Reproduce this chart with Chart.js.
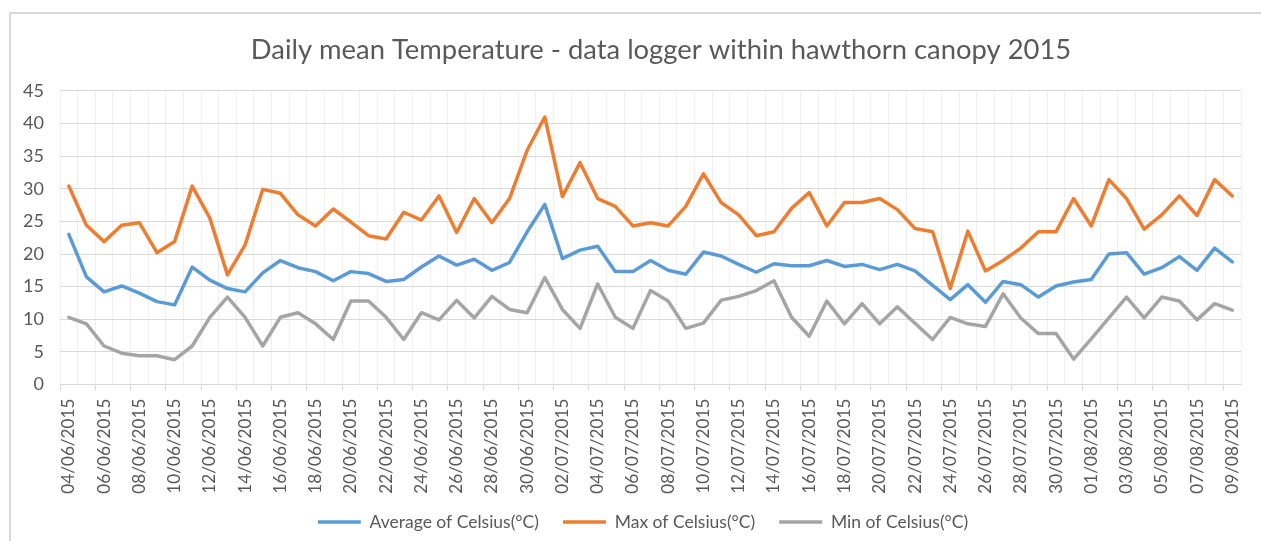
<!DOCTYPE html>
<html>
<head>
<meta charset="utf-8">
<title>Daily mean Temperature</title>
<script src="https://cdn.jsdelivr.net/npm/chart.js@4.4.0/dist/chart.umd.min.js"></script>
<style>
  html, body { margin: 0; padding: 0; background: #fff; overflow: hidden; }
  #frame { position: absolute; left: 9px; top: 12px; width: 1400px; height: 700px; border: 2px solid #d9d9d9; }
  #myChart { position: absolute; left: 0; top: 0; }
</style>
</head>
<body>
<div id="frame"></div>
<canvas id="myChart" width="1261" height="541"></canvas>
<script>
const dates = [
  "04/06/2015", "05/06/2015", "06/06/2015", "07/06/2015", "08/06/2015", "09/06/2015", "10/06/2015",
  "11/06/2015", "12/06/2015", "13/06/2015", "14/06/2015", "15/06/2015", "16/06/2015", "17/06/2015",
  "18/06/2015", "19/06/2015", "20/06/2015", "21/06/2015", "22/06/2015", "23/06/2015", "24/06/2015",
  "25/06/2015", "26/06/2015", "27/06/2015", "28/06/2015", "29/06/2015", "30/06/2015", "01/07/2015",
  "02/07/2015", "03/07/2015", "04/07/2015", "05/07/2015", "06/07/2015", "07/07/2015", "08/07/2015",
  "09/07/2015", "10/07/2015", "11/07/2015", "12/07/2015", "13/07/2015", "14/07/2015", "15/07/2015",
  "16/07/2015", "17/07/2015", "18/07/2015", "19/07/2015", "20/07/2015", "21/07/2015", "22/07/2015",
  "23/07/2015", "24/07/2015", "25/07/2015", "26/07/2015", "27/07/2015", "28/07/2015", "29/07/2015",
  "30/07/2015", "31/07/2015", "01/08/2015", "02/08/2015", "03/08/2015", "04/08/2015", "05/08/2015",
  "06/08/2015", "07/08/2015", "08/08/2015", "09/08/2015"
];

const avgCelsius = [
  23.0, 16.5, 14.2, 15.1, 14.0, 12.7, 12.2, 18.0, 16.0, 14.7, 14.2, 17.1, 19.0, 17.9,
  17.3, 15.9, 17.3, 17.0, 15.8, 16.1, 18.0, 19.7, 18.3, 19.2, 17.5, 18.7, 23.4, 27.6,
  19.3, 20.6, 21.2, 17.3, 17.3, 19.0, 17.5, 16.9, 20.3, 19.7, 18.4, 17.2, 18.5, 18.2,
  18.2, 19.0, 18.1, 18.4, 17.6, 18.4, 17.4, 15.2, 13.0, 15.3, 12.6, 15.8, 15.3, 13.4,
  15.1, 15.7, 16.1, 20.0, 20.2, 16.9, 17.9, 19.6, 17.5, 20.9, 18.8
];

const maxCelsius = [
  30.4, 24.4, 21.9, 24.4, 24.8, 20.2, 21.9, 30.4, 25.5, 16.8, 21.4, 29.9, 29.3, 26.0,
  24.3, 26.9, 24.9, 22.8, 22.3, 26.4, 25.2, 28.9, 23.3, 28.5, 24.8, 28.5, 35.9, 41.0,
  28.8, 34.0, 28.5, 27.3, 24.3, 24.8, 24.3, 27.3, 32.3, 27.9, 26.0, 22.8, 23.4, 27.0,
  29.4, 24.3, 27.9, 27.9, 28.5, 26.8, 23.9, 23.4, 14.7, 23.5, 17.4, 19.0, 20.9, 23.4,
  23.4, 28.5, 24.3, 31.4, 28.5, 23.8, 26.0, 28.9, 25.9, 31.4, 28.9
];

const minCelsius = [
  10.3, 9.3, 5.9, 4.8, 4.4, 4.4, 3.8, 5.9, 10.3, 13.4, 10.3, 5.9, 10.3, 11.0,
  9.3, 6.9, 12.8, 12.8, 10.3, 6.9, 11.0, 9.9, 12.9, 10.2, 13.5, 11.5, 11.0, 16.4,
  11.5, 8.6, 15.4, 10.3, 8.6, 14.4, 12.8, 8.6, 9.4, 12.9, 13.5, 14.4, 15.9, 10.3,
  7.4, 12.8, 9.3, 12.4, 9.3, 11.9, 9.4, 6.9, 10.3, 9.3, 8.9, 13.9, 10.2, 7.8,
  7.8, 3.9, 7.0, 10.2, 13.4, 10.2, 13.4, 12.8, 9.9, 12.4, 11.4
];

const textColor = "#595959";
const fontFamily = "Lato, 'Open Sans', sans-serif";
const legendFontSize = 17.5;
const legendPadding = 24;

// nudge title and legend to where Excel put them
const shiftBoxes = {
  id: "shiftBoxes",
  afterLayout(chart) {
    chart.titleBlock.left += 36;
    chart.titleBlock.right += 36;
    const legend = chart.legend;
    const h = legend.bottom - legend.top;
    legend.left += 18;
    legend.right += 18;
    legend.top = 522 - legendPadding - legendFontSize / 2;
    legend.bottom = legend.top + h;
  },
};

const ctx = document.querySelector("#myChart");

const data = {
  labels: dates,
  datasets: [
    {
      label: "Average of Celsius(°C)",
      data: avgCelsius,
      borderColor: "#5b9bd5",
      backgroundColor: "#5b9bd5",
    },
    {
      label: "Max of Celsius(°C)",
      data: maxCelsius,
      borderColor: "#ed7d31",
      backgroundColor: "#ed7d31",
    },
    {
      label: "Min of Celsius(°C)",
      data: minCelsius,
      borderColor: "#a5a5a5",
      backgroundColor: "#a5a5a5",
    },
  ],
};

const config = {
  type: "line",
  data,
  plugins: [shiftBoxes],
  options: {
    responsive: false,
    animation: false,
    layout: { padding: { left: 0, right: 11, top: 0, bottom: -11 } },
    elements: {
      line: { borderWidth: 3.5, tension: 0, borderJoinStyle: "round", borderCapStyle: "round" },
      // points are hidden; borderWidth here only feeds the legend line
      point: { radius: 0, borderWidth: 3.5 },
    },
    plugins: {
      title: {
        display: true,
        text: "Daily mean Temperature - data logger within hawthorn canopy 2015",
        color: textColor,
        font: { family: fontFamily, size: 27.4, weight: "normal" },
        padding: { top: 34, bottom: 24 },
      },
      legend: {
        position: "bottom",
        labels: {
          usePointStyle: true,
          pointStyle: "line",
          pointStyleWidth: 43,
          color: textColor,
          font: { family: fontFamily, size: legendFontSize },
          padding: legendPadding,
        },
      },
      tooltip: { enabled: false },
    },
    scales: {
      x: {
        offset: true,
        grid: {
          offset: true,
          color: "#efefef",
          tickLength: 6,
          tickColor: (c) => (c.index % 2 === 0 ? "#d9d9d9" : "rgba(0,0,0,0)"),
        },
        border: { color: "#d9d9d9" },
        ticks: {
          autoSkip: false,
          minRotation: 90,
          maxRotation: 90,
          padding: 8,
          color: textColor,
          font: { family: fontFamily, size: 17.2 },
          callback: function (value, index) {
            return index % 2 === 0 ? this.getLabelForValue(value) : "";
          },
        },
        afterFit: (scale) => {
          scale.height = 116;
        },
      },
      y: {
        min: 0,
        max: 45,
        ticks: {
          stepSize: 5,
          padding: 16,
          color: textColor,
          font: { family: fontFamily, size: 18 },
        },
        grid: { color: "#d9d9d9", drawTicks: false },
        border: { display: false },
        afterFit: (scale) => {
          scale.width = 60;
        },
      },
    },
  },
};

let myChart = new Chart(ctx, config);
</script>
</body>
</html>
